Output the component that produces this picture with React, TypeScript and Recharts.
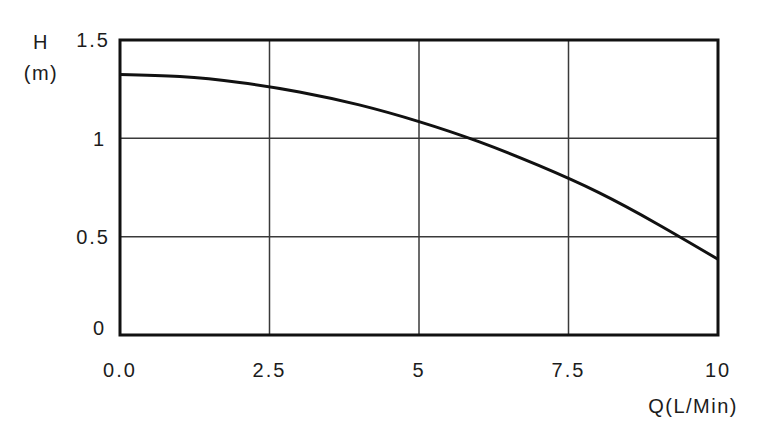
import { CartesianGrid, Label, Line, LineChart, ReferenceArea, XAxis, YAxis } from "recharts"

const flow = [0, 1, 2, 3, 4, 5, 6, 7, 8, 9, 10]
const head = [1.325, 1.314, 1.284, 1.236, 1.17, 1.085, 0.983, 0.862, 0.725, 0.562, 0.385]

const xTicks = [0, 2.5, 5, 7.5, 10]
const xTickLabels = ["0.0", "2.5", "5", "7.5", "10"]
const yTicks = [0, 0.5, 1, 1.5]
const yTickLabels = ["0", "0.5", "1", "1.5"]

const data = flow.map((q, i) => ({ q, h: head[i] }))

const font = "'Liberation Sans', Arial, sans-serif"
const ink = "#1c1c1c"

function YTick(props: any) {
  const { x, y, payload } = props
  const i = yTicks.indexOf(payload.value)
  const label = yTickLabels[i]
  const whole = !label.includes(".")
  return (
    <text
      x={x - (whole ? 4 : 0)}
      y={y + (payload.value === 0 ? -7 : 0)}
      dy="0.36em"
      textAnchor="end"
      fontSize={20}
      letterSpacing={2}
      fontFamily={font}
      fill={ink}
    >
      {label}
    </text>
  )
}

export default function App() {
  return (
    <div style={{ position: "absolute", left: 0, top: 0, background: "#fff" }}>
      <LineChart width={762} height={435} data={data} margin={{ top: 40, right: 44, bottom: 50, left: 60 }}>
        <CartesianGrid stroke="#3a3a3a" strokeWidth={1.5} horizontalValues={yTicks} verticalValues={xTicks} />
        <XAxis
          dataKey="q"
          type="number"
          domain={[0, 10]}
          ticks={xTicks}
          tickFormatter={(v: number) => xTickLabels[xTicks.indexOf(v)]}
          axisLine={false}
          tickLine={false}
          tickSize={0}
          tickMargin={28}
          height={50}
          interval={0}
          tick={{ fontSize: 20, fill: ink, fontFamily: font, letterSpacing: 2 }}
        >
          <Label
            content={() => (
              <text x={738} y={413} textAnchor="end" fontSize={20} letterSpacing={1.5} fontFamily={font} fill={ink}>
                Q(L/Min)
              </text>
            )}
          />
        </XAxis>
        <YAxis
          type="number"
          domain={[0, 1.5]}
          ticks={yTicks}
          interval={0}
          axisLine={false}
          tickLine={false}
          tickSize={0}
          tickMargin={10}
          width={60}
          tick={<YTick />}
        >
          <Label
            content={() => (
              <g fontSize={20} fontFamily={font} fill={ink} textAnchor="middle" letterSpacing={1.5}>
                <text x={41} y={49}>H</text>
                <text x={41} y={80}>(m)</text>
              </g>
            )}
          />
        </YAxis>
        <ReferenceArea
          x1={0}
          x2={10}
          y1={0}
          y2={1.5}
          fill="none"
          fillOpacity={0}
          stroke="#111"
          strokeWidth={3}
          ifOverflow="visible"
        />
        <Line
          type="natural"
          dataKey="h"
          stroke="#111"
          strokeWidth={3}
          dot={false}
          activeDot={false}
          isAnimationActive={false}
        />
      </LineChart>
    </div>
  )
}
